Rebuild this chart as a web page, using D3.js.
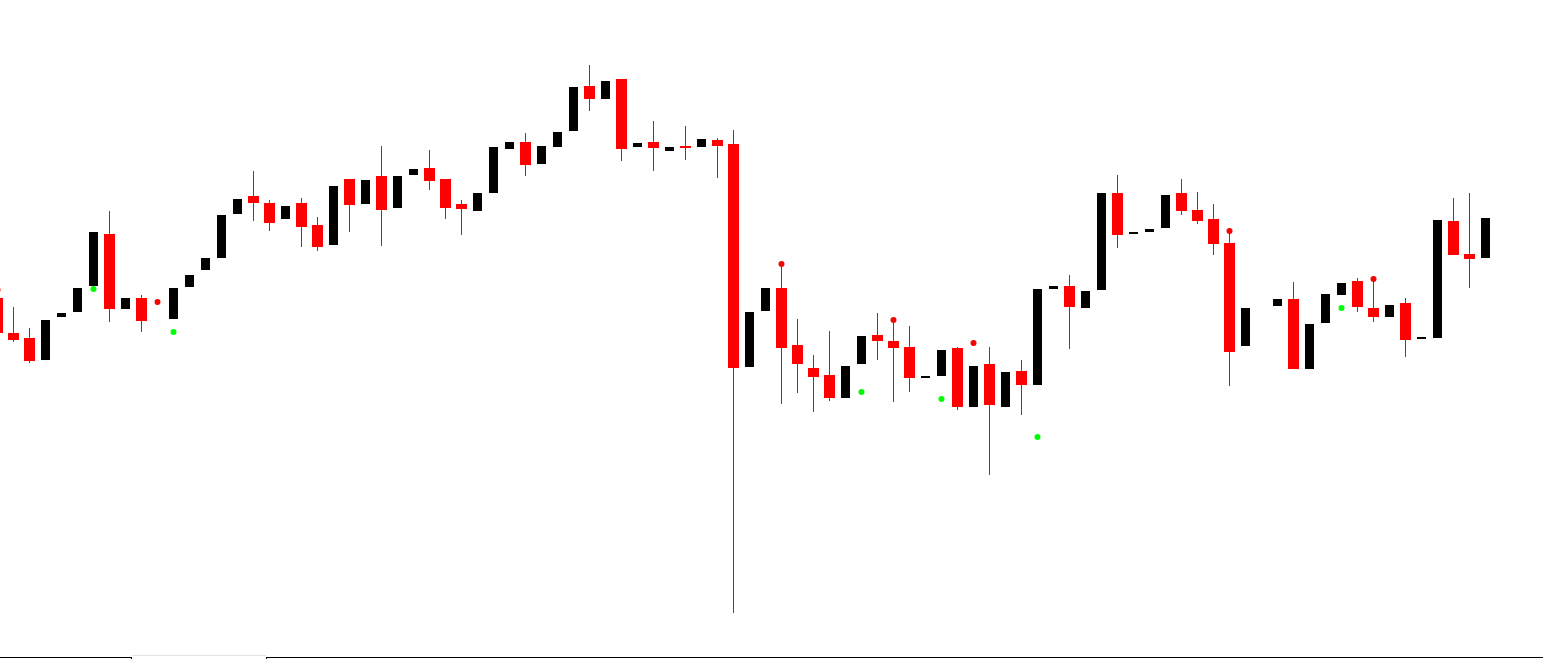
<!DOCTYPE html>
<html>
<head>
<meta charset="utf-8">
<script src="https://cdn.jsdelivr.net/npm/d3@7/dist/d3.min.js"></script>
<style>
html,body{margin:0;padding:0;background:#fff;overflow:hidden;}
svg{display:block;}
</style>
</head>
<body>
<svg id="chart" width="1543" height="659"></svg>
<script>
// Bar index 0..93 (null = no visible bar)
const opens = [1.2702,1.2667,1.2662,1.2640,1.2683,1.2688,1.2714,1.2766,1.2691,1.2702,
  null,1.2681,1.2713,1.2730,1.2742,1.2786,1.2804,1.2797,1.2781,1.2797,
  1.2775,1.2755,1.2821,1.2796,1.2824,1.2792,1.2825,1.2832,1.2821,1.2796,
  1.2789,1.2807,1.2851,1.2858,1.2836,1.2853,1.2869,1.2914,1.2901,1.2921,
  1.2853,1.2858,1.2849,1.2854,1.2853,1.2860,1.2856,1.2633,1.2689,1.2712,
  1.2655,1.2632,1.2625,1.2602,1.2636,1.2665,1.2659,1.2653,1.2622,1.2624,
  1.2652,1.2593,1.2636,1.2593,1.2629,1.2615,1.2711,1.2714,1.2692,1.2710,
  1.2807,1.2766,1.2768,1.2772,1.2807,1.2790,1.2781,1.2757,1.2654,null,
  1.2694,1.2701,1.2631,1.2677,1.2705,1.2719,1.2692,1.2683,1.2697,1.2661,
  1.2662,1.2779,1.2746,1.2742];
const closes = [1.2667,1.2660,1.2639,1.2680,1.2687,1.2712,1.2768,1.2691,1.2702,1.2679,
  null,1.2712,1.2725,1.2742,1.2785,1.2801,1.2797,1.2777,1.2794,1.2773,
  1.2753,1.2814,1.2795,1.2820,1.2790,1.2824,1.2831,1.2819,1.2792,1.2791,
  1.2807,1.2853,1.2858,1.2835,1.2854,1.2868,1.2913,1.2901,1.2919,1.2851,
  1.2857,1.2852,1.2853,1.2852,1.2861,1.2854,1.2632,1.2688,1.2712,1.2652,
  1.2636,1.2623,1.2602,1.2634,1.2664,1.2659,1.2652,1.2622,1.2624,1.2650,
  1.2593,1.2634,1.2595,1.2628,1.2615,1.2711,1.2714,1.2693,1.2709,1.2807,
  1.2765,1.2768,1.2771,1.2805,1.2789,1.2779,1.2756,1.2648,1.2692,null,
  1.2701,1.2631,1.2676,1.2706,1.2717,1.2693,1.2683,1.2695,1.2660,1.2663,
  1.2780,1.2745,1.2741,1.2782];
const highs = [1.2702,1.2693,1.2672,1.2680,1.2687,1.2712,1.2768,1.2789,1.2702,1.2705,
  null,1.2712,1.2725,1.2742,1.2785,1.2801,1.2829,1.2800,1.2794,1.2802,
  1.2783,1.2814,1.2821,1.2820,1.2854,1.2824,1.2831,1.2850,1.2821,1.2800,
  1.2807,1.2853,1.2858,1.2867,1.2854,1.2868,1.2913,1.2935,1.2919,1.2921,
  1.2857,1.2879,1.2853,1.2874,1.2861,1.2862,1.2870,1.2688,1.2712,1.2734,
  1.2681,1.2645,1.2669,1.2634,1.2664,1.2687,1.2678,1.2674,1.2624,1.2650,
  1.2653,1.2634,1.2653,1.2628,1.2640,1.2711,1.2714,1.2725,1.2709,1.2807,
  1.2825,1.2768,1.2771,1.2805,1.2821,1.2808,1.2796,1.2767,1.2692,null,
  1.2701,1.2718,1.2676,1.2706,1.2717,1.2722,1.2719,1.2695,1.2702,1.2663,
  1.2780,1.2802,1.2807,1.2782];
const lows = [1.2667,1.2658,1.2637,1.2640,1.2683,1.2688,1.2714,1.2678,1.2691,1.2668,
  null,1.2681,1.2713,1.2730,1.2742,1.2786,1.2779,1.2769,1.2781,1.2753,
  1.2749,1.2755,1.2768,1.2796,1.2754,1.2792,1.2825,1.2810,1.2781,1.2765,
  1.2789,1.2807,1.2851,1.2824,1.2836,1.2853,1.2869,1.2889,1.2901,1.2839,
  1.2853,1.2829,1.2849,1.2840,1.2853,1.2822,1.2387,1.2633,1.2689,1.2596,
  1.2607,1.2588,1.2599,1.2602,1.2636,1.2640,1.2598,1.2608,1.2622,1.2624,
  1.2590,1.2593,1.2525,1.2593,1.2585,1.2615,1.2711,1.2651,1.2692,1.2710,
  1.2752,1.2766,1.2768,1.2772,1.2785,1.2776,1.2745,1.2614,1.2654,null,
  1.2694,1.2631,1.2631,1.2677,1.2705,1.2688,1.2678,1.2683,1.2643,1.2661,
  1.2662,1.2745,1.2712,1.2742];

// Signal dots
const sellIdx = [0, 10, 49, 56, 61, 77, 86];
const sellPrice = [1.2710, 1.2698, 1.2736, 1.2680, 1.2657, 1.2769, 1.2721];
const buyIdx = [6, 11, 54, 59, 65, 84];
const buyPrice = [1.2711, 1.2668, 1.2608, 1.2601, 1.2563, 1.2692];

const W = 1543, H = 659;
const svg = d3.select("#chart");

const bars = opens.map((o, i) => ({i, o, h: highs[i], l: lows[i], c: closes[i]})).filter(d => d.o !== null);

const x = d3.scaleLinear().domain([0, 93]).range([-2.5, 1485.5]);
const y = d3.scaleLinear().domain([1.3000, 1.2341]).range([0, 659]);
const Y = v => Math.round(y(v));

const g = svg.append("g");

// wicks (only bearish bars show wicks)
g.selectAll("rect.wick").data(bars.filter(d => d.c < d.o)).join("rect")
  .attr("class", "wick")
  .attr("x", d => x(d.i) - 0.5).attr("width", 1)
  .attr("y", d => Y(d.h))
  .attr("height", d => Math.max(1, Y(d.l) - Y(d.h)))
  .attr("fill", "#ff0000");

// bodies
g.selectAll("rect.body").data(bars).join("rect")
  .attr("class", "body")
  .attr("x", d => d.c < d.o ? x(d.i) - 5.5 : x(d.i) - 4.5)
  .attr("width", d => d.c < d.o ? 11 : 9)
  .attr("y", d => Y(Math.max(d.o, d.c)))
  .attr("height", d => Math.max(1, Y(Math.min(d.o, d.c)) - Y(Math.max(d.o, d.c))))
  .attr("fill", d => d.c < d.o ? "#ff0000" : "#000000");

// signal dots
g.selectAll("circle.sell").data(sellIdx.map((i, k) => ({i, p: sellPrice[k]}))).join("circle")
  .attr("class", "sell")
  .attr("cx", d => x(d.i)).attr("cy", d => y(d.p)).attr("r", 3)
  .attr("fill", "#ff0000");
g.selectAll("circle.buy").data(buyIdx.map((i, k) => ({i, p: buyPrice[k]}))).join("circle")
  .attr("class", "buy")
  .attr("cx", d => x(d.i)).attr("cy", d => y(d.p)).attr("r", 3)
  .attr("fill", "#00ff00");

// bottom tab strip
const tabs = svg.append("g").attr("shape-rendering", "crispEdges");
tabs.append("line").attr("x1", 0).attr("x2", 132).attr("y1", 657.5).attr("y2", 657.5).attr("stroke", "#000");
tabs.append("line").attr("x1", 131.5).attr("x2", 131.5).attr("y1", 657).attr("y2", 659).attr("stroke", "#000");
tabs.append("line").attr("x1", 132).attr("x2", 266).attr("y1", 655.5).attr("y2", 655.5).attr("stroke", "#e3e3e3");
tabs.append("line").attr("x1", 266.5).attr("x2", 266.5).attr("y1", 657).attr("y2", 659).attr("stroke", "#000");
tabs.append("line").attr("x1", 266).attr("x2", W).attr("y1", 657.5).attr("y2", 657.5).attr("stroke", "#000");
</script>
</body>
</html>
